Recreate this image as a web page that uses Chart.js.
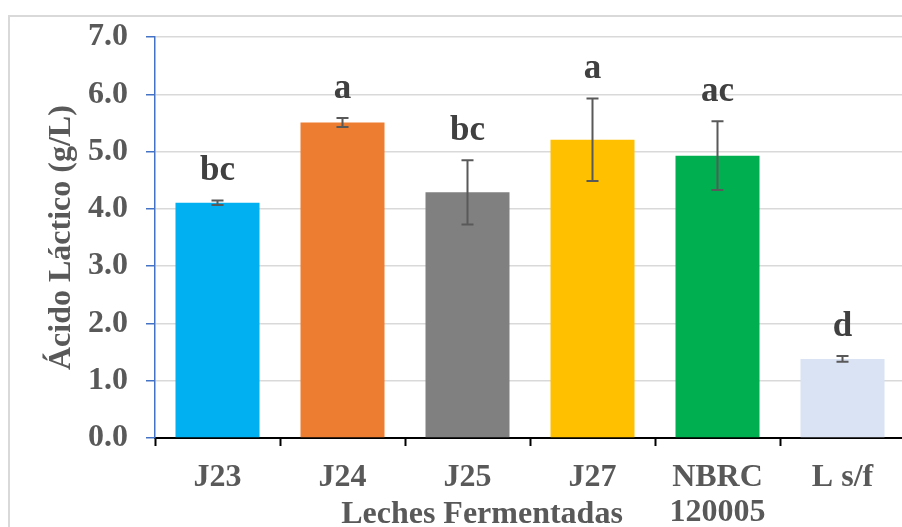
<!DOCTYPE html>
<html>
<head>
<meta charset="utf-8">
<script src="https://cdn.jsdelivr.net/npm/chart.js@4/dist/chart.umd.min.js"></script>
<style>
  html, body { margin: 0; padding: 0; background: #fff; width: 902px; height: 527px; overflow: hidden; position: relative; }
  #frame { position: absolute; left: 8px; top: 15px; width: 1000px; height: 1000px; border: 2px solid #d9d9d9; box-sizing: border-box; }
  #c { position: absolute; left: 0; top: 0; }
</style>
</head>
<body>
<div id="frame"></div>
<canvas id="c" width="920" height="560"></canvas>
<script>
const categories = ['J23', 'J24', 'J25', 'J27', ['NBRC', '120005'], 'L s/f'];
const values = [4.11, 5.51, 4.29, 5.21, 4.93, 1.38];
const errors = [0.04, 0.08, 0.56, 0.72, 0.60, 0.05];
const letters = ['bc', 'a', 'bc', 'a', 'ac', 'd'];
const barColors = ['#00B0F0', '#ED7D31', '#808080', '#FFC000', '#00B050', '#DAE3F3'];
const yTitle = 'Ácido Láctico (g/L)';
const xTitle = 'Leches Fermentadas';

const SERIF = '"Liberation Serif", "Times New Roman", serif';

const overlayPlugin = {
  id: 'overlay',
  afterDatasetsDraw(chart) {
    const ctx = chart.ctx;
    const y = chart.scales.y;
    const meta = chart.getDatasetMeta(0);
    ctx.save();
    meta.data.forEach((bar, i) => {
      const x = bar.x;
      const top = y.getPixelForValue(values[i] + errors[i]);
      const bot = y.getPixelForValue(values[i] - errors[i]);
      ctx.strokeStyle = '#595959';
      ctx.lineWidth = 2;
      ctx.beginPath();
      ctx.moveTo(x, top); ctx.lineTo(x, bot);
      ctx.moveTo(x - 6, top); ctx.lineTo(x + 6, top);
      ctx.moveTo(x - 6, bot); ctx.lineTo(x + 6, bot);
      ctx.stroke();
      ctx.fillStyle = '#404040';
      ctx.font = 'bold 35px ' + SERIF;
      ctx.textAlign = 'center';
      ctx.textBaseline = 'alphabetic';
      ctx.fillText(letters[i], x, top - 20);
    });
    ctx.restore();
  },
  afterDraw(chart) {
    const ctx = chart.ctx;
    const a = chart.chartArea;
    ctx.save();
    ctx.fillStyle = '#595959';
    ctx.font = 'bold 32px ' + SERIF;
    ctx.textAlign = 'center';
    ctx.textBaseline = 'middle';
    ctx.translate(a.left - 93, (a.top + a.bottom) / 2);
    ctx.rotate(-Math.PI / 2);
    ctx.fillText(yTitle, 0, 0);
    ctx.restore();
    ctx.save();
    ctx.fillStyle = '#595959';
    ctx.font = 'bold 32px ' + SERIF;
    ctx.textAlign = 'center';
    ctx.textBaseline = 'alphabetic';
    ctx.fillText(xTitle, a.left + 327, a.bottom + 85);
    ctx.restore();
  }
};

new Chart(document.getElementById('c'), {
  type: 'bar',
  data: {
    labels: categories,
    datasets: [{
      data: values,
      backgroundColor: barColors,
      borderWidth: 0,
      categoryPercentage: 0.672,
      barPercentage: 1.0
    }]
  },
  options: {
    responsive: false,
    animation: false,
    devicePixelRatio: 1,
    layout: { padding: { left: 0, top: 33, right: 15, bottom: 0 } },
    plugins: { legend: { display: false }, tooltip: { enabled: false } },
    scales: {
      x: {
        afterFit(scale) { scale.height = 122; },
        grid: { display: true, drawOnChartArea: false, drawTicks: true, tickLength: 8, tickColor: '#000000', tickWidth: 2, offset: true },
        border: { display: true, color: '#000000', width: 2 },
        ticks: {
          color: '#595959',
          font: { family: SERIF, size: 32, weight: 'bold', lineHeight: 1.1 },
          padding: 14,
          maxRotation: 0, autoSkip: false
        }
      },
      y: {
        min: 0, max: 7,
        afterFit(scale) { scale.width = 155; },
        grid: { color: '#d9d9d9', lineWidth: 1.5, drawTicks: true, tickLength: 9, tickColor: '#4472C4', tickWidth: 1.5 },
        border: { display: true, color: '#4472C4', width: 1.5 },
        ticks: {
          stepSize: 1,
          color: '#595959',
          font: { family: SERIF, size: 32, weight: 'bold' },
          padding: 18,
          callback: (v) => Number(v).toFixed(1)
        }
      }
    }
  },
  plugins: [overlayPlugin]
});
</script>
</body>
</html>
